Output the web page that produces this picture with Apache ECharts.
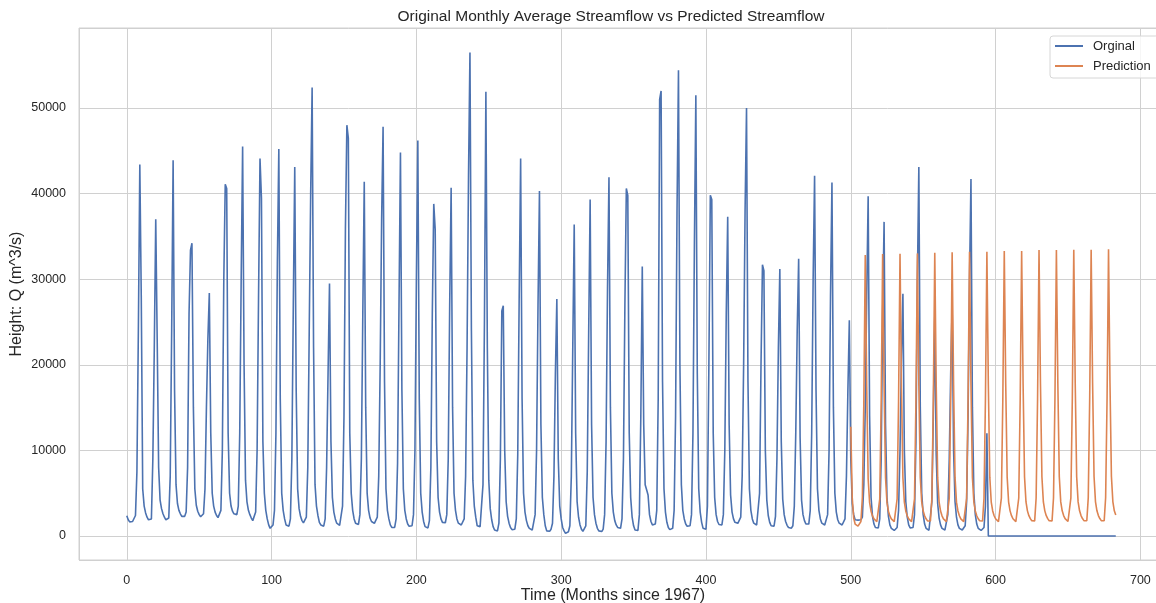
<!DOCTYPE html>
<html>
<head>
<meta charset="utf-8">
<title>Original Monthly Average Streamflow vs Predicted Streamflow</title>
<script src="https://cdn.jsdelivr.net/npm/echarts@6/dist/echarts.min.js"></script>
<style>
  html, body { margin: 0; padding: 0; background: #ffffff; }
  #main { width: 1156px; height: 603px; }
</style>
</head>
<body>
<div id="main"></div>
<script>
// monthly average streamflow (m^3/s), 12 months per row, month 0 = Jan 1967
var flow1967 = [
  2370, 1900, 1650, 1600, 1700, 1750, 2400, 7500, 24000, 43400, 28000, 5500,
  3500, 2700, 2200, 1900, 1870, 2000, 9000, 22000, 37000, 23000, 8000, 4200,
  3200, 2600, 2200, 1900, 1850, 2100, 7000, 24000, 43900, 17000, 6000, 3800,
  3000, 2600, 2300, 2250, 2300, 2800, 8000, 26000, 33400, 34200, 15000, 5500,
  3600, 2900, 2500, 2250, 2250, 2600, 5500, 15000, 23000, 28400, 12000, 5000,
  3500, 2800, 2400, 2150, 2200, 3000, 10000, 30000, 41100, 40600, 12000, 5000,
  3500, 2900, 2600, 2450, 2500, 3500, 12000, 30000, 45500, 20000, 6500, 4000,
  3000, 2500, 2100, 1800, 1850, 2800, 10000, 28000, 44100, 39500, 11000, 5000,
  3000, 2000, 1300, 900, 950, 1300, 3000, 12000, 32000, 45200, 16000, 5000,
  3000, 2000, 1300, 1100, 1150, 2000, 9000, 27000, 43100, 17000, 5500, 3200
];
var flow1977 = [
  2300, 1800, 1550, 1600, 2200, 8000, 24000, 40000, 52400, 22000, 6000, 3500,
  2400, 1600, 1300, 1100, 1150, 2000, 8000, 19000, 29500, 11000, 4500, 2800,
  2000, 1500, 1300, 1250, 1400, 3500, 14000, 36000, 48000, 46500, 12000, 5000,
  3000, 2000, 1500, 1300, 1350, 2500, 9000, 26000, 41400, 15000, 5000, 3000,
  2100, 1700, 1500, 1480, 1550, 2200, 7000, 20000, 37000, 47800, 18000, 5500,
  3000, 2000, 1300, 1000, 900, 1000, 2000, 8500, 27000, 44800, 17000, 5500,
  3000, 2000, 1400, 1150, 1090, 1200, 2500, 10000, 30000, 46200, 16000, 5000,
  2800, 1700, 1100, 900, 950, 1800, 8000, 26000, 38800, 35800, 11000, 4500,
  2800, 2000, 1600, 1480, 1550, 2500, 9000, 27000, 40700, 15000, 5000, 3000,
  2000, 1500, 1300, 1285, 1350, 2000, 7000, 22000, 42000, 56500, 24000, 6500
];
var flow1987 = [
  3500, 2200, 1200, 1090, 1100, 1300, 6000, 25000, 51900, 22000, 6500, 3200,
  1900, 1100, 700, 500, 600, 1500, 9000, 26300, 26900, 10000, 4000, 2300,
  1500, 1000, 750, 700, 800, 2000, 9500, 28000, 44100, 16000, 5000, 2800,
  1800, 1200, 900, 700, 700, 900, 2500, 10000, 27000, 40300, 13000, 4500,
  2500, 1200, 600, 500, 550, 800, 1500, 7000, 19000, 27700, 9000, 3500,
  2000, 1000, 600, 310, 350, 500, 1200, 7000, 22000, 36400, 12000, 4000,
  2200, 1300, 800, 550, 500, 1200, 7500, 24000, 39300, 13000, 4500, 2500,
  1500, 900, 600, 500, 520, 800, 2500, 11000, 29000, 41900, 15000, 5000,
  2800, 1800, 1300, 1000, 800, 900, 2000, 9000, 27000, 40600, 39800, 12000,
  4500, 2200, 1200, 700, 500, 650, 2500, 14000, 31500, 13000, 6000, 5400
];
var flow1997 = [
  4800, 2500, 1700, 1300, 1285, 1400, 3000, 16000, 51000, 52000, 18000, 5500,
  2800, 1600, 1000, 750, 700, 900, 3000, 14000, 38000, 54400, 20000, 6000,
  3000, 2000, 1400, 1150, 1090, 1200, 2500, 12000, 34000, 51500, 19000, 5500,
  2800, 1600, 900, 700, 800, 3500, 20000, 39800, 39300, 12000, 4500, 2500,
  1700, 1350, 1285, 1300, 2500, 10000, 26000, 37300, 13000, 4800, 2800, 2000,
  1600, 1500, 1480, 1550, 2200, 7000, 20000, 38000, 50000, 18000, 5500, 3000,
  2000, 1500, 1300, 1285, 1500, 5000, 20000, 31700, 31000, 10000, 4200, 2400,
  1600, 1200, 1090, 1150, 2300, 9000, 22000, 31200, 11000, 4300, 2500, 1700,
  1250, 1000, 900, 920, 1200, 3500, 12000, 24000, 32400, 11500, 4200, 2500,
  1800, 1400, 1285, 1400, 3000, 12000, 30000, 42100, 17000, 5500, 3000, 2000
];
var flow2007 = [
  1500, 1300, 1285, 1350, 2500, 10000, 28000, 41300, 15000, 5000, 2800, 1900,
  1500, 1300, 1285, 1350, 2000, 7000, 17000, 25200, 9000, 3800, 2500, 1900,
  1870, 1860, 1870, 1900, 2200, 6000, 15000, 28000, 39700, 14000, 4500, 2300,
  1400, 1000, 900, 950, 2000, 9000, 26000, 36700, 13000, 4500, 2300, 1300,
  900, 700, 650, 700, 1000, 3000, 10000, 21000, 28300, 10000, 4000, 2200,
  1300, 950, 900, 1000, 2500, 11000, 30000, 43100, 15000, 5000, 2500, 1400,
  900, 700, 680, 900, 4000, 14000, 25600, 9500, 3800, 2100, 1300, 900,
  700, 700, 900, 2500, 9000, 19000, 27000, 10000, 4000, 2200, 1300, 900,
  700, 700, 800, 1200, 4000, 14000, 30000, 41700, 15000, 5000, 2500, 1400,
  900, 700, 650, 700, 1000, 3500, 12000, 0, 0, 0, 0, 0
];
var flow2017 = [
  0, 0, 0, 0, 0, 0, 0, 0, 0, 0, 0, 0,
  0, 0, 0, 0, 0, 0, 0, 0, 0, 0, 0, 0,
  0, 0, 0, 0, 0, 0, 0, 0, 0, 0, 0, 0,
  0, 0, 0, 0, 0, 0, 0, 0, 0, 0, 0, 0,
  0, 0, 0, 0, 0, 0, 0, 0, 0, 0, 0, 0,
  0, 0, 0, 0, 0, 0, 0, 0, 0, 0, 0, 0,
  0, 0, 0, 0, 0, 0, 0, 0, 0, 0, 0, 0
];

// model prediction, starts at month 500
var predStart = 500;
var prediction = [
  12770, 4500, 2100, 1400, 1170, 1150, 1250, 1700, 4500, 15500, 32830, 17400,
  6700, 3900, 2900, 2350, 2000, 1780, 1690, 1760, 4300, 15700, 32940, 17500,
  6800, 3900, 2900, 2350, 2000, 1770, 1680, 1750, 4350, 15800, 32980, 17500,
  6800, 3950, 2900, 2360, 2000, 1770, 1680, 1750, 4350, 15800, 33020, 17600,
  6800, 3950, 2920, 2360, 2010, 1770, 1680, 1750, 4380, 15900, 33100, 17600,
  6850, 3950, 2920, 2360, 2010, 1780, 1680, 1750, 4400, 15900, 33140, 17650,
  6850, 3960, 2930, 2370, 2010, 1780, 1690, 1760, 4400, 15950, 33220, 17700,
  6850, 3960, 2930, 2370, 2020, 1780, 1690, 1760, 4420, 16000, 33220, 17700,
  6880, 3970, 2930, 2370, 2020, 1790, 1690, 1760, 4420, 16000, 33290, 17750,
  6880, 3970, 2940, 2380, 2020, 1790, 1690, 1770, 4440, 16050, 33290, 17750,
  6900, 3980, 2940, 2380, 2030, 1790, 1700, 1770, 4450, 16050, 33410, 17800,
  6900, 3980, 2940, 2380, 2030, 1790, 1700, 1770, 4450, 16100, 33410, 17800,
  6920, 3990, 2950, 2390, 2030, 1800, 1700, 1770, 4460, 16100, 33450, 17850,
  6920, 3990, 2950, 2390, 2040, 1800, 1700, 1780, 4470, 16150, 33450, 17850,
  6950, 4000, 2950, 2390, 2040, 1800, 1710, 1780, 4480, 16150, 33490, 17900,
  6950, 4000, 2950, 2450
];

var original = [].concat(flow1967, flow1977, flow1987, flow1997, flow2007, flow2017);
var originalData = original.map(function (v, i) { return [i, v]; });
var predictionData = prediction.map(function (v, i) { return [predStart + i, v]; });

var font = 'Liberation Sans, Arial, sans-serif';
var gridColor = '#d0d0d0';
var textColor = '#262626';

var chart = echarts.init(document.getElementById('main'));
chart.setOption({
  animation: false,
  backgroundColor: '#ffffff',
  title: {
    text: 'Original Monthly Average Streamflow vs Predicted Streamflow',
    left: 611,
    top: 9,
    padding: 0,
    textAlign: 'center',
    textStyle: { fontFamily: font, fontSize: 15.5, fontWeight: 'normal', color: textColor }
  },
  legend: {
    orient: 'vertical',
    left: 1050,
    top: 36,
    padding: [3, 8, 5, 5],
    icon: 'rect',
    itemWidth: 28,
    itemHeight: 2,
    itemGap: 6,
    backgroundColor: 'rgba(255,255,255,0.8)',
    borderColor: '#d6d6d6',
    borderWidth: 1,
    borderRadius: 3,
    textStyle: { fontFamily: font, fontSize: 13, lineHeight: 14, color: textColor, padding: [0, 0, 0, 5] },
    data: ['Orginal', 'Prediction']
  },
  grid: {
    left: 79,
    top: 28,
    width: 1086,
    height: 532,
    show: true,
    borderColor: gridColor,
    borderWidth: 1,
    containLabel: false,
    outerBoundsMode: 'none'
  },
  xAxis: {
    type: 'value',
    min: -33,
    max: 717,
    splitNumber: 8,
    name: 'Time (Months since 1967)',
    nameLocation: 'middle',
    nameGap: 28,
    nameMoveOverlap: false,
    nameTextStyle: { fontFamily: font, fontSize: 16, color: textColor, padding: [0, 18, 0, 0] },
    axisLine: { show: false },
    axisTick: { show: false },
    axisLabel: { fontFamily: font, fontSize: 12.5, color: textColor, margin: 14, showMinLabel: false, showMaxLabel: false },
    splitLine: { show: true, lineStyle: { color: gridColor, width: 1 } }
  },
  yAxis: {
    type: 'value',
    min: -2800,
    max: 59350,
    splitNumber: 6,
    name: 'Height: Q (m^3/s)',
    nameLocation: 'middle',
    nameGap: 54,
    nameMoveOverlap: false,
    nameTextStyle: { fontFamily: font, fontSize: 16, color: textColor },
    axisLine: { show: false },
    axisTick: { show: false },
    axisLabel: {
      fontFamily: font, fontSize: 12.5, color: textColor, margin: 13,
      showMinLabel: false, showMaxLabel: false,
      formatter: function (v) { return String(v); }
    },
    splitLine: { show: true, lineStyle: { color: gridColor, width: 1 } }
  },
  series: [
    {
      name: 'Orginal',
      type: 'line',
      data: originalData,
      symbol: 'none',
      color: '#4c72b0',
      lineStyle: { color: '#4c72b0', width: 1.6 }
    },
    {
      name: 'Prediction',
      type: 'line',
      data: predictionData,
      symbol: 'none',
      color: '#dd8452',
      lineStyle: { color: '#dd8452', width: 1.6 }
    }
  ]
});
</script>
</body>
</html>
